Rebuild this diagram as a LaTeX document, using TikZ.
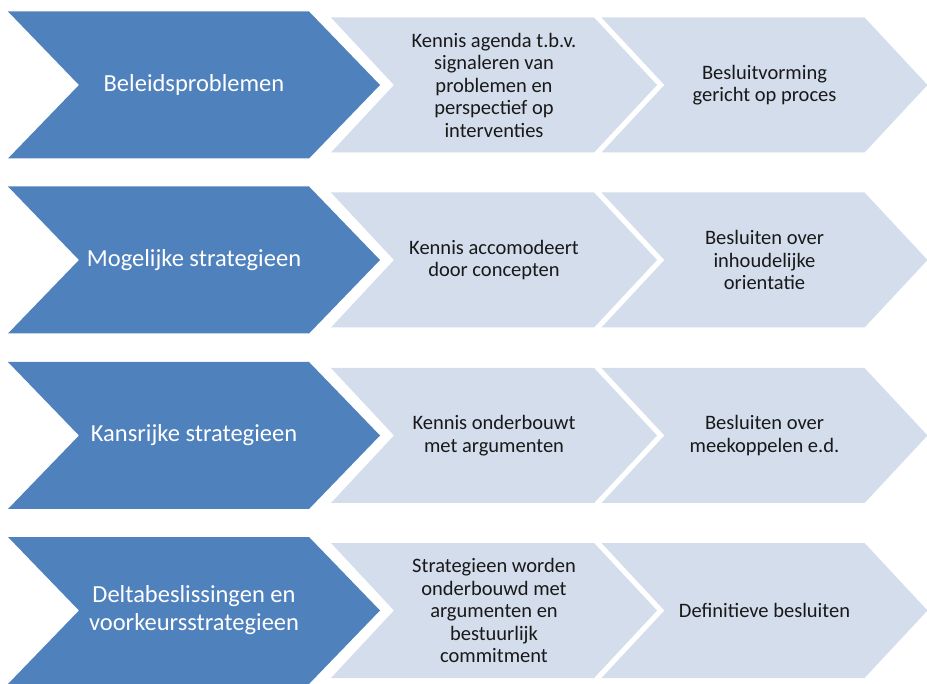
\documentclass[tikz,border=0pt]{standalone}
\usepackage{fontspec}
\setmainfont{Carlito}
\usetikzlibrary{shapes.symbols}
\definecolor{stageblue}{RGB}{79,129,189}
\definecolor{stagelight}{RGB}{211,221,236}
\tikzset{
    stage/.style={
        signal,
        signal from=west,
        signal to=east,
        signal pointer angle=92,
        fill=stageblue,
        draw=none,
        minimum width=372pt,
        minimum height=147pt,
        inner sep=0pt,
        text=white,
        align=center,
        font=\fontsize{24.5}{28}\selectfont
    },
    kennis/.style={
        signal,
        signal from=west,
        signal to=east,
        signal pointer angle=94,
        fill=stagelight,
        draw=none,
        minimum width=326pt,
        minimum height=135pt,
        inner sep=0pt,
        text=black!90,
        align=center,
        font=\fontsize{20.5}{22.5}\selectfont
    }
}

\begin{document}
\begin{tikzpicture}[x=1pt, y=-1pt]

    \useasboundingbox (0,0) rectangle (927,684);

    % Row 1
    \node[stage] (prob) at (194, 85) {Beleidsproblemen};
    \node[kennis] (probK) at (494, 85) {Kennis agenda t.b.v.\\signaleren van\\problemen en\\perspectief op\\interventies};
    \node[kennis] (probB) at (764.5, 85) {Besluitvorming\\gericht op proces};

    % Row 2
    \node[stage] (mog) at (194, 260) {Mogelijke strategieen};
    \node[kennis] (mogK) at (494, 260) {Kennis accomodeert\\door concepten};
    \node[kennis] (mogB) at (764.5, 260) {Besluiten over\\inhoudelijke\\orientatie};

    % Row 3
    \node[stage] (kans) at (194, 435.5) {Kansrijke strategieen};
    \node[kennis] (kansK) at (494, 435.5) {Kennis onderbouwt\\met argumenten};
    \node[kennis] (kansB) at (764.5, 435.5) {Besluiten over\\meekoppelen e.d.};

    % Row 4
    \node[stage] (delta) at (194, 610.5) {Deltabeslissingen en\\voorkeursstrategieen};
    \node[kennis] (deltaK) at (494, 610.5) {Strategieen worden\\onderbouwd met\\argumenten en\\bestuurlijk\\commitment};
    \node[kennis] (deltaB) at (764.5, 610.5) {Definitieve besluiten};

\end{tikzpicture}
\end{document}
